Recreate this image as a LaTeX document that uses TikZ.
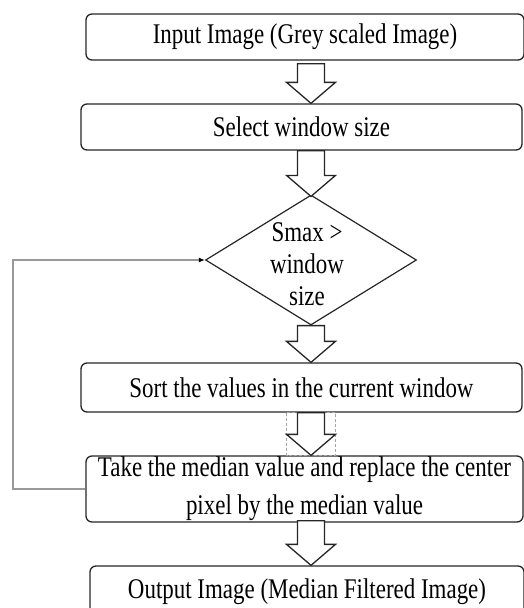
\documentclass[tikz,border=0pt]{standalone}
\usepackage{fontspec}
\setmainfont{Liberation Serif}[FakeStretch=0.805]
\usetikzlibrary{shapes.geometric,arrows.meta}

% block arrow from point #1 down to tip #2
\newcommand{\flowarrow}[2]{%
  \path #1 coordinate (fa-s) #2 coordinate (fa-t);
  \draw[blockarrow]
    ([xshift=-13.5pt]fa-s) -- ([xshift=13.5pt]fa-s)
    -- ([xshift=13.5pt,yshift=21pt]fa-t) -- ([xshift=24.5pt,yshift=21pt]fa-t)
    -- (fa-t)
    -- ([xshift=-24.5pt,yshift=21pt]fa-t) -- ([xshift=-13.5pt,yshift=21pt]fa-t)
    -- cycle;}

\begin{document}
\begin{tikzpicture}[x=1pt,y=-1pt,
  stepbox/.style={draw=black!85,line width=1.3pt,rounded corners=6pt,
    fill=white,inner sep=0pt,font=\fontsize{28.5}{38}\selectfont,align=center},
  decision/.style={diamond,draw=black!85,line width=1.2pt,inner sep=0pt,
    minimum width=211pt,minimum height=130pt},
  blockarrow/.style={draw=black!85,line width=1.3pt,fill=white,line join=miter},
  guide/.style={draw=black!35,dashed,line width=0.8pt,dash pattern=on 3pt off 2pt},
  loopline/.style={draw=black!40,line width=2pt,
    -{Latex[length=6pt,width=5pt,color=black]}}]

\useasboundingbox (0,0) rectangle (524,608);

\coordinate (axis) at (311,0);

\node[stepbox,minimum width=438pt,minimum height=46pt] (b1) at (305,37)
  {Input Image (Grey scaled Image)};
\node[stepbox,minimum width=441pt,minimum height=46pt] (b2) at (301.5,127)
  {Select window size};
\node[decision] (dec) at (311,260) {};
\node[font=\fontsize{28.5}{32}\selectfont,align=center,inner sep=0pt] (dectext)
  at (307,264) {Smax >\\window\\size};
\node[stepbox,minimum width=441pt,minimum height=49pt] (b3) at (301.5,387.5)
  {Sort the values in the current window};
\node[stepbox,minimum width=437pt,minimum height=66pt] (b4) at (304.5,489)
  {Take the median value and replace the center\\pixel by the median value};
\node[stepbox,minimum width=434pt,minimum height=52pt] (b5) at (307,592)
  {\raisebox{3pt}{Output Image (Median Filtered Image)}};

% guide frame around the middle arrow
\draw[guide] ([xshift=-24.5pt]axis |- b3.south) rectangle ([xshift=24.5pt]axis |- b4.north);

\flowarrow{([yshift=-3pt]axis |- b1.south)}{(axis |- b2.north)}
\flowarrow{(axis |- b2.south)}{([yshift=-2pt]axis |- dec.north)}
\flowarrow{(axis |- dec.south)}{(axis |- b3.north)}
\flowarrow{(axis |- b3.south)}{(axis |- b4.north)}
\flowarrow{([yshift=2pt]axis |- b4.south)}{(axis |- b5.north)}

% loop back to the decision
\draw[loopline] (b4.west) -- ++(-72,0) |- (dec.west);

\end{tikzpicture}
\end{document}
